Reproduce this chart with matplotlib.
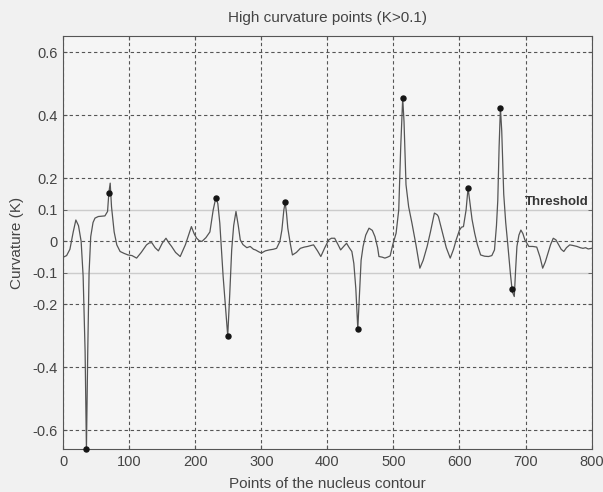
import matplotlib
matplotlib.use("Agg")
import matplotlib.pyplot as plt

plt.rcParams["font.family"] = ["Liberation Sans", "DejaVu Sans"]

# Curvature along the nucleus contour
points = [0, 5, 10, 15, 19, 23, 27, 30, 33, 35, 37, 39, 41.5, 45, 48, 53, 58, 63, 67, 69, 71, 73,
          77, 81, 86, 92, 98, 104, 111, 118, 126, 130, 134, 139, 144, 150, 155.5, 160, 164, 170,
          177, 185, 194, 198, 202, 206, 210, 216, 222, 227, 231, 234, 237, 242, 246, 249, 252,
          255, 258, 261.5, 265, 268, 272, 278, 283, 288, 291, 296, 300, 306, 312, 318, 323, 328,
          331, 334, 336, 338, 340, 344, 347, 353, 359, 365, 370, 375, 379, 385, 390, 396, 402,
          406, 411, 416, 420, 425, 429, 433, 437, 440, 443, 446, 449, 451, 454, 458, 463, 468,
          472, 476, 478, 483, 487, 491, 495, 499, 504, 508, 511, 514, 516, 519, 523, 528, 534,
          540, 545, 551, 556, 562, 566, 568, 574, 580, 586, 591, 595, 600, 603, 606, 610, 613,
          616, 619, 623, 627, 632, 638, 644, 649, 653, 656, 658, 660, 662, 664, 667, 670, 673,
          677, 680, 683, 685, 687, 690, 693, 696, 699, 705, 711, 717, 722, 726, 730, 734, 738,
          742, 746, 749, 754, 758, 762, 767, 772, 778, 783, 787, 791, 795, 800]
curvature = [-0.05, -0.045, -0.025, 0.03, 0.068, 0.05, 0.0, -0.11, -0.35, -0.66, -0.35, -0.1,
             0.015, 0.06, 0.074, 0.079, 0.08, 0.081, 0.095, 0.155, 0.185, 0.11, 0.03, -0.011,
             -0.032, -0.038, -0.043, -0.045, -0.053, -0.035, -0.011, -0.005, -0.004, -0.02,
             -0.03, -0.005, 0.01, -0.005, -0.016, -0.035, -0.048, -0.01, 0.047, 0.025, 0.01,
             0.002, 0.0, 0.012, 0.03, 0.1, 0.139, 0.12, 0.058, -0.11, -0.22, -0.3, -0.17,
             -0.027, 0.05, 0.095, 0.05, 0.005, -0.01, -0.02, -0.016, -0.025, -0.027, -0.033,
             -0.037, -0.03, -0.027, -0.025, -0.022, 0.0, 0.036, 0.1, 0.124, 0.09, 0.042, -0.01,
             -0.043, -0.035, -0.022, -0.018, -0.016, -0.013, -0.011, -0.03, -0.048, -0.02,
             0.005, 0.01, 0.01, -0.01, -0.027, -0.015, -0.006, -0.02, -0.032, -0.07, -0.15,
             -0.278, -0.15, -0.06, -0.016, 0.02, 0.042, 0.035, 0.015, -0.02, -0.048, -0.05,
             -0.053, -0.05, -0.046, -0.01, 0.026, 0.1, 0.3, 0.455, 0.38, 0.18, 0.11, 0.058,
             -0.01, -0.085, -0.06, -0.016, 0.03, 0.09, 0.085, 0.079, 0.03, -0.02, -0.053,
             -0.025, 0.005, 0.036, 0.045, 0.047, 0.1, 0.17, 0.12, 0.07, 0.026, -0.01, -0.043,
             -0.047, -0.048, -0.045, -0.027, 0.05, 0.13, 0.3, 0.424, 0.35, 0.15, 0.06, -0.006,
             -0.1, -0.16, -0.175, -0.09, -0.016, 0.02, 0.036, 0.025, 0.005, -0.016, -0.016,
             -0.018, -0.05, -0.085, -0.065, -0.038, -0.01, 0.01, 0.005, -0.006, -0.025, -0.032,
             -0.02, -0.011, -0.013, -0.016, -0.02, -0.022, -0.02, -0.024, -0.022]

# High curvature points (|K| > 0.1)
peak_x = [35, 69, 231, 249, 336, 446, 514, 613, 662, 680]
peak_y = [-0.66, 0.155, 0.139, -0.3, 0.124, -0.278, 0.455, 0.17, 0.424, -0.152]

threshold = 0.1
x_ticks = [0, 100, 200, 300, 400, 500, 600, 700, 800]
y_major = [-0.6, -0.4, -0.2, 0, 0.2, 0.4, 0.6]
y_minor = [-0.1, 0.1]

text_col = "#444444"

fig = plt.figure(figsize=(6.03, 4.92), dpi=100, facecolor="#f1f1f1")
ax = fig.add_axes([0.105, 0.0868, 0.876, 0.8406], facecolor="#f5f5f5")

# threshold lines
ax.axhline(threshold, color="#cccccc", lw=1.0, zorder=1)
ax.axhline(-threshold, color="#cccccc", lw=1.0, zorder=1)

ax.plot(points, curvature, color="#555555", lw=0.9, zorder=3)
ax.plot(peak_x, peak_y, "o", color="#151515", ms=3.6, zorder=4, clip_on=False)

ax.text(699, 0.117, "Threshold", fontsize=9.5, fontweight="bold", color="#353535")

ax.set_xlim(0, 800)
ax.set_ylim(-0.66, 0.653)
ax.set_xticks(x_ticks)
ax.set_yticks(y_major)
ax.set_yticklabels(["-0.6", "-0.4", "-0.2", "0", "0.2", "0.4", "0.6"])
ax.set_yticks(y_minor, labels=["-0.1", "0.1"], minor=True)
ax.grid(True, which="major", color="#555555", ls=(0, (3, 2.5)), lw=0.8)
ax.tick_params(which="both", direction="in", length=3, labelsize=10.5, labelcolor=text_col,
               color="#555555", top=True, right=True, pad=4)

for s in ax.spines.values():
    s.set_color("#555555")
    s.set_linewidth(0.8)

ax.set_title("High curvature points (K>0.1)", fontsize=11, color=text_col, pad=10)
ax.set_xlabel("Points of the nucleus contour", fontsize=11, color=text_col, labelpad=6)
ax.set_ylabel("Curvature (K)", fontsize=11, color=text_col, labelpad=6)

fig.savefig("out.png", dpi=100, facecolor=fig.get_facecolor())
plt.close(fig)
